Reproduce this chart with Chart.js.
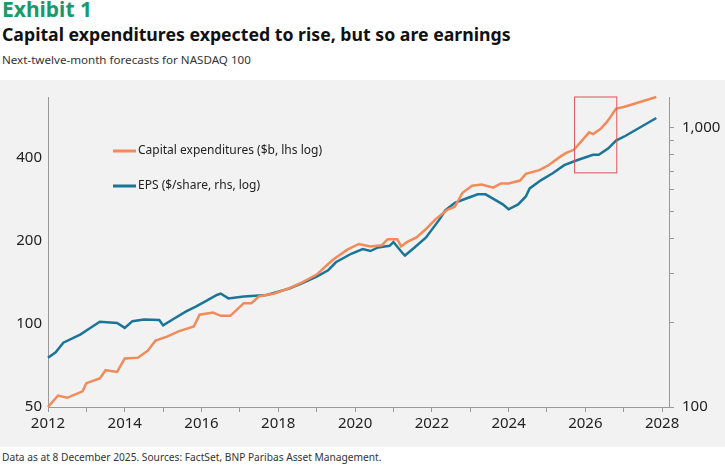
<!DOCTYPE html>
<html>
<head>
<meta charset="utf-8">
<script src="https://cdn.jsdelivr.net/npm/chart.js@4"></script>
<style>
  body { margin: 0; background: #fff; font-family: "Noto Sans", sans-serif; width: 725px; height: 465px; overflow: hidden; position: relative; }
  .exhibit { position: absolute; left: 2px; top: -5px; color: #1a9a6c; font-weight: bold; font-size: 21px; }
  .title { position: absolute; left: 2px; top: 22px; color: #111; font-weight: bold; font-size: 17.7px; }
  .sub { position: absolute; left: 2px; top: 52px; color: #333; font-size: 11.6px; }
  .panel { position: absolute; left: 0; top: 80px; width: 725px; height: 367px; background: #f2f2f2; }
  .foot { position: absolute; left: 2px; top: 450px; color: #333; font-size: 10.2px; }
</style>
</head>
<body>
<div class="exhibit">Exhibit 1</div>
<div class="title">Capital expenditures expected to rise, but so are earnings</div>
<div class="sub">Next-twelve-month forecasts for NASDAQ 100</div>
<div class="panel"><canvas id="chart" width="725" height="367"></canvas></div>
<div class="foot">Data as at 8 December 2025. Sources: FactSet, BNP Paribas Asset Management.</div>
<script>
// Capital expenditures ($b, left log axis)
const capexYears = [2012.0, 2012.26, 2012.5, 2012.9, 2013.0, 2013.35, 2013.5, 2013.8, 2014.0, 2014.35, 2014.6, 2014.8, 2015.1, 2015.4, 2015.8, 2015.95, 2016.3, 2016.5, 2016.75, 2017.1, 2017.3, 2017.5, 2017.9, 2018.3, 2018.6, 2019.0, 2019.3, 2019.45, 2019.8, 2020.1, 2020.4, 2020.7, 2020.85, 2021.1, 2021.2, 2021.35, 2021.6, 2021.85, 2022.1, 2022.4, 2022.6, 2022.8, 2023.05, 2023.3, 2023.6, 2023.8, 2024.0, 2024.3, 2024.45, 2024.8, 2025.05, 2025.3, 2025.5, 2025.7, 2025.9, 2026.1, 2026.2, 2026.4, 2026.55, 2026.65, 2026.8, 2027.0, 2027.85];
const capexValues = [50, 55, 54, 57, 61, 63.5, 68, 67, 75, 75.5, 80, 87, 90, 94, 98, 108, 110, 107, 107, 119, 119, 126, 129, 135, 141, 151, 165, 172, 186, 195, 191, 193, 203, 203, 191, 198, 206, 221, 240, 259, 266, 299, 317, 320, 312, 323, 323, 331, 350, 361, 377, 400, 417, 428, 460, 495, 488, 510, 538, 562, 604, 612, 665];

// EPS ($/share, right log axis)
const epsYears = [2012.0, 2012.2, 2012.4, 2012.85, 2013.1, 2013.35, 2013.8, 2014.0, 2014.2, 2014.5, 2014.9, 2015.0, 2015.3, 2015.6, 2015.85, 2016.1, 2016.4, 2016.5, 2016.7, 2017.1, 2017.7, 2018.3, 2018.6, 2019.0, 2019.3, 2019.5, 2019.9, 2020.2, 2020.4, 2020.6, 2020.9, 2021.0, 2021.25, 2021.3, 2021.55, 2021.85, 2022.2, 2022.35, 2022.6, 2022.95, 2023.2, 2023.4, 2023.65, 2023.85, 2024.0, 2024.25, 2024.45, 2024.55, 2024.85, 2025.15, 2025.45, 2025.8, 2026.2, 2026.35, 2026.6, 2026.8, 2027.05, 2027.85];
const epsValues = [150, 157, 170, 182, 192, 202, 200, 192, 203, 206, 205, 196, 208, 220, 229, 239, 252, 255, 245, 249, 252, 266, 277, 293, 309, 330, 354, 368, 362, 373, 378, 390, 354, 349, 373, 405, 470, 506, 539, 562, 578, 578, 552, 532, 511, 532, 568, 607, 650, 688, 735, 767, 801, 801, 845, 900, 937, 1085];

const leftTicks = [50, 100, 200, 400];
const rightTicks = [100, 200, 300, 400, 500, 600, 700, 800, 900, 1000];
const rightLabels = [100, 1000];
const xLabels = [2012, 2014, 2016, 2018, 2020, 2022, 2024, 2026, 2028];

// highlighted forecast window (years, capex values)
const boxYears = [2025.72, 2026.82];
const boxCapex = [353, 665];

const orange = '#f28a5a';
const teal = '#1a7597';

const extras = {
  id: 'extras',
  afterDatasetsDraw(chart) {
    const {ctx, scales} = chart;
    const x1 = scales.x.getPixelForValue(boxYears[0]);
    const x2 = scales.x.getPixelForValue(boxYears[1]);
    const y1 = scales.y.getPixelForValue(boxCapex[1]);
    const y2 = scales.y.getPixelForValue(boxCapex[0]);
    ctx.save();
    ctx.strokeStyle = '#d9535b';
    ctx.lineWidth = 1;
    ctx.strokeRect(x1, y1, x2 - x1, y2 - y1);
    // legend inside plot
    ctx.font = '12px "Noto Sans"';
    ctx.fillStyle = '#222';
    ctx.textBaseline = 'middle';
    ctx.lineWidth = 3;
    ctx.strokeStyle = orange;
    ctx.beginPath(); ctx.moveTo(113, 71); ctx.lineTo(136, 71); ctx.stroke();
    ctx.fillText('Capital expenditures ($b, lhs log)', 138, 71);
    ctx.strokeStyle = teal;
    ctx.beginPath(); ctx.moveTo(113, 106); ctx.lineTo(136, 106); ctx.stroke();
    ctx.fillText('EPS ($/share, rhs, log)', 138, 106);
    ctx.restore();
  }
};

const tickFont = {family: 'Noto Sans', size: 15};

new Chart(document.getElementById('chart'), {
  type: 'line',
  data: {
    datasets: [
      {
        label: 'Capital expenditures ($b, lhs log)',
        data: capexYears.map((x, i) => ({x: x, y: capexValues[i]})),
        borderColor: orange,
        borderWidth: 2.5,
        pointRadius: 0,
        clip: 6,
        yAxisID: 'y'
      },
      {
        label: 'EPS ($/share, rhs, log)',
        data: epsYears.map((x, i) => ({x: x, y: epsValues[i]})),
        borderColor: teal,
        borderWidth: 2.5,
        pointRadius: 0,
        clip: 6,
        yAxisID: 'y2'
      }
    ]
  },
  options: {
    responsive: false,
    animation: false,
    layout: {padding: {top: 13, left: 0, right: 0, bottom: 0}},
    plugins: {legend: {display: false}, tooltip: {enabled: false}},
    scales: {
      x: {
        type: 'linear',
        min: 2012,
        max: 2028.18,
        afterBuildTicks: s => { s.ticks = []; for (let y = 2012; y <= 2028; y++) s.ticks.push({value: y}); },
        ticks: {
          font: tickFont, color: '#222', maxRotation: 0, autoSkip: false,
          callback: v => xLabels.includes(v) ? String(v) : ''
        },
        grid: {drawOnChartArea: false, tickLength: 5, color: '#999'},
        border: {color: '#999'},
        afterFit: s => { s.height = 40; }
      },
      y: {
        type: 'logarithmic',
        position: 'left',
        min: 50,
        max: 665,
        afterBuildTicks: s => { s.ticks = leftTicks.map(v => ({value: v})); },
        ticks: {font: tickFont, color: '#222', padding: 6, callback: v => String(v)},
        grid: {drawOnChartArea: false, tickLength: 0},
        border: {color: '#999'},
        afterFit: s => { s.width = 48; }
      },
      y2: {
        type: 'logarithmic',
        position: 'right',
        min: 100,
        max: 1290,
        afterBuildTicks: s => { s.ticks = rightTicks.map(v => ({value: v})); },
        ticks: {
          font: tickFont, color: '#222', padding: 8, autoSkip: false,
          callback: v => rightLabels.includes(v) ? v.toLocaleString('en-US') : ''
        },
        grid: {drawOnChartArea: false, tickLength: 5, color: '#999'},
        border: {color: '#999'},
        afterFit: s => { s.width = 56; }
      }
    }
  },
  plugins: [extras]
});
</script>
</body>
</html>
